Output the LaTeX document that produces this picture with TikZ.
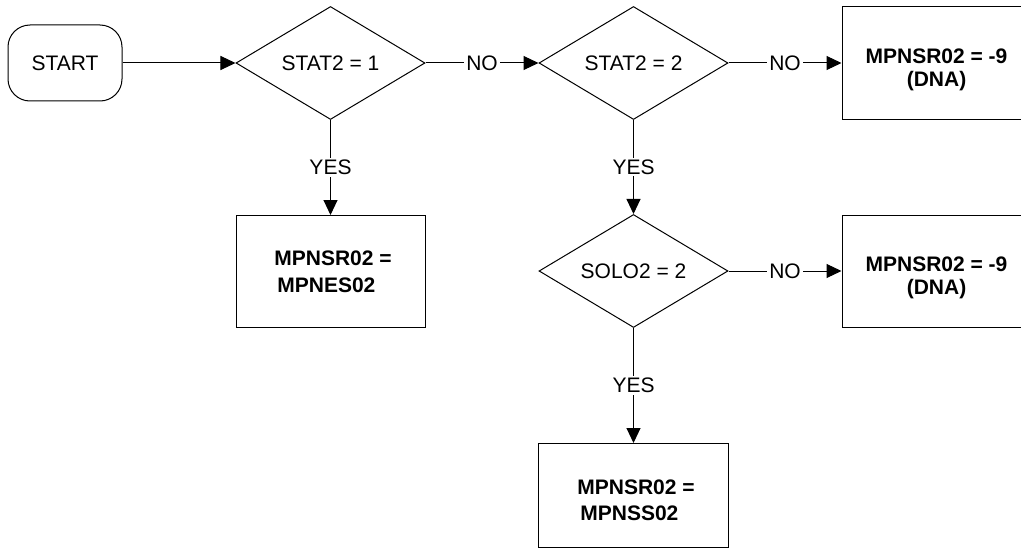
\documentclass[tikz,border=0pt]{standalone}
\usepackage{fontspec}
\setmainfont{Liberation Sans}
\usetikzlibrary{shapes.geometric,arrows.meta,positioning}

\begin{document}
\begin{tikzpicture}[
    font=\fontsize{10.5}{12}\selectfont,
    line width=0.5pt,
    flow/.style={-{Triangle[length=7.5pt,width=7pt]}},
    term/.style={rectangle, draw, rounded corners=11pt, minimum width=57pt, minimum height=38pt},
    test/.style={diamond, draw, aspect=2.5, minimum width=94.5pt, minimum height=56.5pt, inner sep=0pt},
    result/.style={rectangle, draw, minimum width=94.5pt, minimum height=56pt, align=left, font=\bfseries\fontsize{10.5}{13.5}\selectfont},
    dna/.style={rectangle, draw, minimum width=94.5pt, minimum height=56pt, align=center, font=\bfseries\fontsize{10.5}{11.5}\selectfont},
    lbl/.style={fill=white, inner sep=1pt}
]
    \useasboundingbox (0,0) rectangle (510.5pt,-278pt);
    \clip (0,0) rectangle (510.5pt,-278pt);

    \node[term] (start) at (32.5pt,-31.5pt) {START};

    \node[test, right=56.5pt of start] (stat1) {STAT2 = 1};
    \node[test, right=56.5pt of stat1] (stat2) {STAT2 = 2};
    \node[dna, right=56.5pt of stat2] (dna1) {\rule{0pt}{14.5pt}MPNSR02 = -9\\(DNA)};

    \node[result, below=47.5pt of stat1] (nes) {\hspace{2.5pt}MPNSR02 =\\\hspace{4pt}MPNES02};
    \node[test, below=47pt of stat2] (solo) {SOLO2 = 2};
    \node[dna, right=56.5pt of solo] (dna2) {\rule{0pt}{14.5pt}MPNSR02 = -9\\(DNA)};

    \node[result, below=57.5pt of solo, minimum width=95pt, minimum height=52pt, font=\bfseries\fontsize{10.5}{13}\selectfont] (nss) {\rule{0pt}{12.5pt}\hspace{2.5pt}MPNSR02 =\\\hspace{4pt}MPNSS02};

    \draw[flow] (start) -- (stat1);
    \draw[flow] (stat1) -- node[lbl] {NO} (stat2);
    \draw[flow] (stat2) -- node[lbl] {NO} (dna1);
    \draw[flow] (stat1) -- node[lbl] {YES} (nes);
    \draw[flow] (stat2) -- node[lbl] {YES} (solo);
    \draw[flow] (solo) -- node[lbl] {NO} (dna2);
    \draw[flow] (solo) -- node[lbl] {YES} (nss);
\end{tikzpicture}
\end{document}
